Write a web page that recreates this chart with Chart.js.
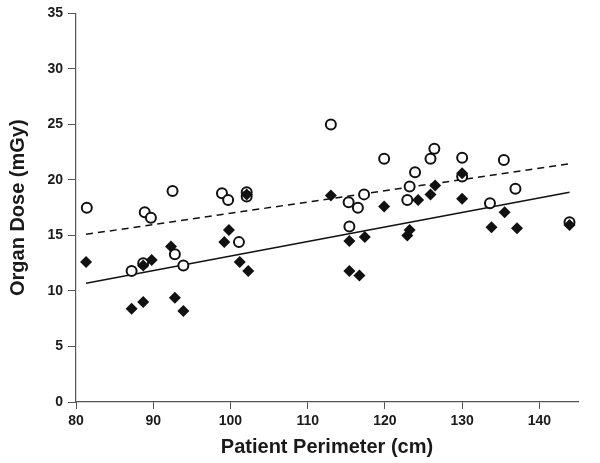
<!DOCTYPE html>
<html>
<head>
<meta charset="utf-8">
<script src="https://cdn.jsdelivr.net/npm/chart.js@4"></script>
<style>
  html, body { margin: 0; padding: 0; background: #fff; }
  #wrap { width: 600px; height: 463px; position: relative; }
</style>
</head>
<body>
<div id="wrap"><canvas id="chart"></canvas></div>
<script>
// open circles (upper group, dashed fit)
const circleX = [81.4, 87.2, 88.7, 88.9, 89.7, 92.5, 92.8, 93.9, 98.9, 99.7, 101.1, 102.1, 102.1, 113.0, 115.3,
                 115.4, 116.5, 117.3, 119.9, 122.9, 123.2, 123.9, 125.9, 126.4, 130.0, 130.0, 133.6, 135.4, 136.9, 143.9];
const circleY = [17.5, 11.8, 12.5, 17.1, 16.6, 19.0, 13.3, 12.3, 18.8, 18.2, 14.4, 18.9, 18.5, 25.0, 18.0,
                 15.8, 17.5, 18.7, 21.9, 18.2, 19.4, 20.7, 21.9, 22.8, 22.0, 20.3, 17.9, 21.8, 19.2, 16.2];

// filled diamonds (lower group, solid fit)
const diamondX = [81.3, 87.2, 88.7, 88.7, 89.8, 92.3, 92.8, 93.9, 99.2, 99.8, 101.2, 102.3, 102.1, 113.0, 115.4,
                  115.4, 116.7, 117.4, 119.9, 122.9, 123.2, 124.3, 125.9, 126.5, 130.0, 130.0, 133.8, 135.5, 137.1, 143.9];
const diamondY = [12.6, 8.4, 9.0, 12.3, 12.8, 14.0, 9.4, 8.2, 14.4, 15.5, 12.6, 11.8, 18.7, 18.6, 14.5,
                  11.8, 11.4, 14.85, 17.6, 15.0, 15.5, 18.2, 18.7, 19.5, 18.3, 20.6, 15.75, 17.1, 15.65, 15.95];

// regression line end points
const fitX = [81.3, 143.9];
const dashedFitY = [15.1, 21.45];
const solidFitY = [10.7, 18.9];

const xTicks = [80, 90, 100, 110, 120, 130, 140];
const yTicks = [0, 5, 10, 15, 20, 25, 30, 35];

const pts = (xs, ys) => xs.map((x, i) => ({ x: x, y: ys[i] }));

const axisColor = '#555';
const tickFont = { family: 'Liberation Sans, Arial, sans-serif', size: 14, weight: 'bold' };
const titleFont = { family: 'Liberation Sans, Arial, sans-serif', size: 20, weight: 'bold' };

new Chart(document.getElementById('chart'), {
  type: 'scatter',
  data: {
    datasets: [
      {
        label: 'fit circles',
        data: pts(fitX, dashedFitY),
        showLine: true,
        borderColor: '#111',
        borderWidth: 1.5,
        borderDash: [7, 5],
        pointRadius: 0,
        order: 4
      },
      {
        label: 'fit diamonds',
        data: pts(fitX, solidFitY),
        showLine: true,
        borderColor: '#111',
        borderWidth: 1.5,
        pointRadius: 0,
        order: 3
      },
      {
        label: 'circles',
        data: pts(circleX, circleY),
        pointStyle: 'circle',
        pointRadius: 5,
        borderWidth: 2,
        borderColor: '#111',
        backgroundColor: '#fff',
        order: 2
      },
      {
        label: 'diamonds',
        data: pts(diamondX, diamondY),
        pointStyle: 'rectRot',
        pointRadius: 6,
        borderWidth: 0,
        borderColor: '#111',
        backgroundColor: '#111',
        order: 1
      }
    ]
  },
  options: {
    responsive: true,
    maintainAspectRatio: false,
    animation: false,
    layout: { padding: { top: 8, right: 22, bottom: 4, left: 4 } },
    plugins: { legend: { display: false }, tooltip: { enabled: false } },
    scales: {
      x: {
        type: 'linear',
        min: 80,
        max: 145,
        afterBuildTicks: s => { s.ticks = xTicks.map(v => ({ value: v })); },
        afterFit: s => { s.height = 57; },
        ticks: { font: tickFont, color: '#1a1a1a', padding: 4, maxRotation: 0 },
        grid: { drawOnChartArea: false, tickLength: 7, color: axisColor },
        border: { color: axisColor, width: 1.2 },
        title: { display: true, text: 'Patient Perimeter (cm)', font: titleFont, color: '#1a1a1a', padding: { top: 2, bottom: 0 } }
      },
      y: {
        min: 0,
        max: 35,
        afterBuildTicks: s => { s.ticks = yTicks.map(v => ({ value: v })); },
        afterFit: s => { s.width = 72; },
        ticks: { font: tickFont, color: '#1a1a1a', padding: 5 },
        grid: { drawOnChartArea: false, tickLength: 8, color: axisColor },
        border: { color: axisColor, width: 1.2 },
        title: { display: true, text: 'Organ Dose (mGy)', font: titleFont, color: '#1a1a1a', padding: { top: 2, bottom: 0 } }
      }
    }
  }
});
</script>
</body>
</html>
